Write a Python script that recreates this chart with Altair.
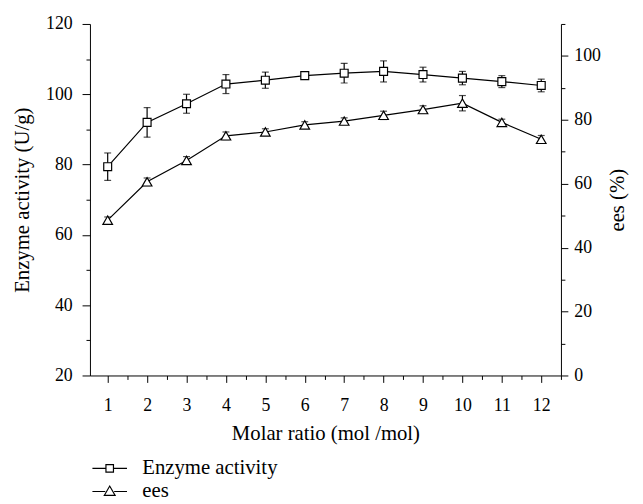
import altair as alt
import pandas as pd

# ---- data ----
ratio = list(range(1, 13))
enzyme = [79.4, 92.0, 97.3, 102.9, 104.0, 105.3, 106.0, 106.5, 105.6, 104.6, 103.6, 102.5]
enzyme_err = [3.9, 4.2, 2.7, 2.7, 2.3, 1.0, 2.8, 3.0, 2.1, 1.9, 1.7, 1.8]
ees = [48.6, 60.6, 67.3, 75.0, 76.2, 78.4, 79.6, 81.4, 83.2, 85.2, 79.2, 73.9]
ees_err = [1.0, 1.2, 1.2, 1.2, 1.0, 1.0, 1.0, 1.3, 1.2, 2.4, 1.0, 1.2]
series = ["Enzyme activity", "ees"]

x_ticks = [v / 2 for v in range(2, 26)]       # 1 .. 12.5 (half steps = minor ticks)
left_ticks = list(range(20, 121, 10))
right_ticks = list(range(0, 111, 10))

df = pd.DataFrame({
    "ratio": ratio,
    "enzyme": enzyme,
    "enzyme_lo": [v - e for v, e in zip(enzyme, enzyme_err)],
    "enzyme_hi": [v + e for v, e in zip(enzyme, enzyme_err)],
    "ees": ees,
    "ees_lo": [v - e for v, e in zip(ees, ees_err)],
    "ees_hi": [v + e for v, e in zip(ees, ees_err)],
})

FONT = "Liberation Serif"
LW = 1.2

axis_common = dict(
    grid=False, domainColor="black", domainWidth=1, tickColor="black", tickWidth=1,
    labelFont=FONT, labelFontSize=18, labelColor="black",
    titleFont=FONT, titleFontSize=21, titleFontWeight="normal", titleColor="black",
)

x_axis = alt.Axis(
    title="Molar ratio (mol /mol)", values=x_ticks,
    labelExpr="datum.value % 1 === 0 ? format(datum.value, 'd') : ''",
    tickSize={"condition": {"test": "datum.value % 1 === 0", "value": 7}, "value": 4},
    labelPadding=14, titlePadding=9, **axis_common)
x_enc = alt.X("ratio:Q", scale=alt.Scale(domain=[0.55, 12.5], nice=False, zero=False), axis=x_axis)

left_axis = alt.Axis(
    title="Enzyme activity (U/g)", orient="left", values=left_ticks,
    labelExpr="datum.value % 20 === 0 ? datum.label : ''",
    tickSize={"condition": {"test": "datum.value % 20 === 0", "value": 8}, "value": 4},
    labelPadding=10, titlePadding=13, **axis_common)
right_axis = alt.Axis(
    title="ees (%)", orient="right", values=right_ticks, titleAngle=270,
    labelExpr="datum.value % 20 === 0 ? datum.label : ''",
    tickSize={"condition": {"test": "datum.value % 20 === 0", "value": 7}, "value": 4},
    labelPadding=6, titlePadding=27, **axis_common)

left_scale = alt.Scale(domain=[20, 120], nice=False, zero=False)
right_scale = alt.Scale(domain=[0, 110], nice=False, zero=False)

base = alt.Chart(df)


def group(val, lo, hi, scale, axis, shape, size):
    line = base.mark_line(color="black", strokeWidth=LW).encode(
        x=x_enc, y=alt.Y(f"{val}:Q", scale=scale, axis=axis))
    err = base.mark_rule(color="black", strokeWidth=LW).encode(
        x=x_enc, y=alt.Y(f"{lo}:Q", scale=scale, axis=axis), y2=f"{hi}:Q")
    cap_lo = base.mark_tick(orient="horizontal", size=7, thickness=LW, color="black").encode(
        x=x_enc, y=alt.Y(f"{lo}:Q", scale=scale, axis=axis))
    cap_hi = base.mark_tick(orient="horizontal", size=7, thickness=LW, color="black").encode(
        x=x_enc, y=alt.Y(f"{hi}:Q", scale=scale, axis=axis))
    pts = base.mark_point(shape=shape, size=size, filled=True, fill="white", stroke="black",
                          strokeWidth=LW, opacity=1).encode(
        x=x_enc, y=alt.Y(f"{val}:Q", scale=scale, axis=axis))
    return alt.layer(line, err, cap_lo, cap_hi, pts)


left_group = group("enzyme", "enzyme_lo", "enzyme_hi", left_scale, left_axis, "square", 64)
right_group = group("ees", "ees_lo", "ees_hi", right_scale, right_axis, "triangle-up", 95)

sq_path = "M-1.75,0H-0.38M0.38,0H1.75M-0.38,-0.38H0.38V0.38H-0.38Z"
tri_path = "M-1.75,0.05H-0.45M0.45,0.05H1.75M-0.55,0.45L0,-0.5L0.55,0.45Z"

leg_df = pd.DataFrame({"series": series})
legend_layer = alt.Chart(leg_df).transform_filter("false").mark_point(filled=False, color="black").encode(
    shape=alt.Shape("series:N", scale=alt.Scale(domain=series, range=[sq_path, tri_path]),
                    legend=alt.Legend(title=None, orient="none", legendX=9, legendY=439,
                                      direction="vertical", symbolSize=400,
                                      symbolStrokeColor="black", symbolFillColor="white",
                                      symbolStrokeWidth=1.2, symbolOpacity=1,
                                      labelFont=FONT, labelFontSize=21, labelColor="black",
                                      labelOffset=22, rowPadding=2)))

chart = alt.layer(left_group, right_group, legend_layer).resolve_scale(
    y="independent"
).properties(
    width=477, height=356,
    autosize=alt.AutoSizeParams(type="none"),
    padding={"left": 83, "top": 13, "right": 75, "bottom": 127},
    background="white",
).configure_view(strokeWidth=0)

chart.save("out.html", embed_options={"renderer": "svg", "actions": False})
